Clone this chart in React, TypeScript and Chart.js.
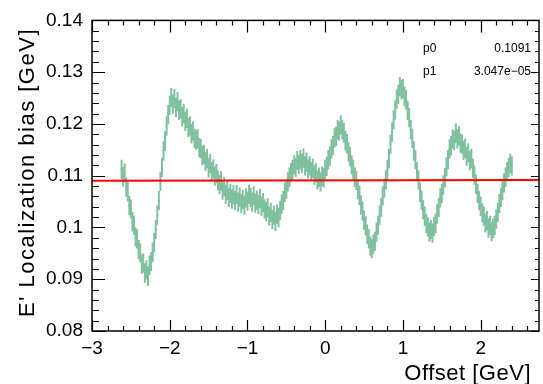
import { useEffect, useRef } from "react";
import { Chart, registerables } from "chart.js";

Chart.register(...registerables);

// Histogram binning (offset axis)
const BIN_START = -2.62;
const BIN_WIDTH = 0.02;

// E' localization bias per offset bin [GeV]
const BIAS = [
  0.1112, 0.1098, 0.1105, 0.1078, 0.1069, 0.1042, 0.1036, 0.1011, 0.1004, 0.0982,
  0.0978, 0.0957, 0.0951, 0.0929, 0.0931, 0.0912, 0.0918, 0.0906, 0.0927, 0.0934,
  0.0952, 0.0971, 0.0996, 0.1024, 0.1052, 0.1089, 0.1116, 0.1148, 0.1167, 0.1196,
  0.1218, 0.1236, 0.1251, 0.1238, 0.1249, 0.1232, 0.1243, 0.1226, 0.1229, 0.1214,
  0.122, 0.1205, 0.1211, 0.1193, 0.1196, 0.1181, 0.1186, 0.1172, 0.1169, 0.1171,
  0.1154, 0.1152, 0.1139, 0.1141, 0.1128, 0.1133, 0.1115, 0.1124, 0.1108, 0.1113,
  0.1099, 0.1104, 0.1091, 0.1083, 0.109, 0.1072, 0.1079, 0.1064, 0.1071, 0.1058,
  0.1066, 0.1055, 0.1063, 0.1052, 0.1064, 0.1049, 0.1058, 0.1046, 0.1054, 0.1043,
  0.1057, 0.1051, 0.1064, 0.1058, 0.1049, 0.1061, 0.1047, 0.1053, 0.1044, 0.1056,
  0.1041, 0.1048, 0.1036, 0.1031, 0.1038, 0.1022, 0.1029, 0.1015, 0.1024, 0.1012,
  0.1026, 0.1019, 0.1033, 0.1045, 0.1052, 0.1068, 0.1074, 0.1088, 0.1097, 0.1106,
  0.1112, 0.1121, 0.1116, 0.1129, 0.1122, 0.1131, 0.1124, 0.1134, 0.1119, 0.1126,
  0.1113, 0.1119, 0.1108, 0.1114, 0.1101, 0.1106, 0.1092, 0.1097, 0.1088, 0.1099,
  0.1096, 0.1112, 0.1118, 0.1131, 0.1138, 0.1152, 0.1158, 0.1173, 0.1176, 0.1189,
  0.1186, 0.1198, 0.1189, 0.1183, 0.1168, 0.1162, 0.1146, 0.1137, 0.1121, 0.1112,
  0.1097, 0.1091, 0.1073, 0.1062, 0.1043, 0.1032, 0.1014, 0.1003, 0.0987, 0.0978,
  0.0964, 0.0959, 0.0968, 0.0973, 0.0991, 0.1004, 0.1024, 0.1039, 0.1061, 0.1076,
  0.1092, 0.1112, 0.1133, 0.1161, 0.1184, 0.1208, 0.1227, 0.1248, 0.1257, 0.1272,
  0.1266, 0.1268, 0.1253, 0.1247, 0.1226, 0.1212, 0.1189, 0.1172, 0.1148, 0.1131,
  0.1108, 0.1092, 0.1068, 0.1053, 0.1034, 0.1022, 0.1008, 0.1001, 0.0991, 0.0996,
  0.0989, 0.1002, 0.1008, 0.1026, 0.1039, 0.1057, 0.1066, 0.1082, 0.1096, 0.1117,
  0.1131, 0.1152, 0.1158, 0.1171, 0.1168, 0.1182, 0.1171, 0.1177, 0.1163, 0.1161,
  0.1149, 0.1153, 0.1138, 0.1144, 0.1129, 0.1133, 0.1114, 0.1101, 0.1083, 0.1066,
  0.1052, 0.1041, 0.1028, 0.1022, 0.1009, 0.1013, 0.0999, 0.1004, 0.0992, 0.0998,
  0.1004, 0.1016, 0.1029, 0.1046, 0.1058, 0.1071, 0.1086, 0.1097, 0.1108, 0.1116,
  0.1124, 0.1119,
];
const BIAS_ERR = 0.0018;

// Linear fit pol1: p0 + p1 * x
const FIT_P0 = 0.1091;
const FIT_P1 = 3.047e-5;
const STAT_NAMES = ["p0", "p1"];
const STAT_VALUES = ["0.1091", "3.047e\u221205"];

const X_MIN = -3;
const X_MAX = 2.75;
const Y_MIN = 0.08;
const Y_MAX = 0.14;

const X_TITLE = "Offset [GeV]";
const Y_TITLE = "E' Localization bias [GeV]";

const FONT = "'Liberation Sans', Arial, Helvetica, sans-serif";
const GREEN = "rgba(122,190,156,0.95)";

const framePlugin = {
  id: "rootFrame",
  afterDatasetsDraw(chart: any) {
    const { ctx, chartArea: a, scales } = chart;
    const xs = scales.x;
    const ys = scales.y;
    ctx.save();
    ctx.strokeStyle = "#000";
    ctx.lineWidth = 1.5;
    ctx.strokeRect(a.left, a.top, a.right - a.left, a.bottom - a.top);
    ctx.lineWidth = 1.2;
    ctx.beginPath();
    // x ticks (0.2 steps), bottom and top
    for (let i = 0; i <= 30; i++) {
      const v = X_MIN + i * 0.2;
      if (v > X_MAX + 1e-9) break;
      const px = Math.round(xs.getPixelForValue(v)) + 0.5;
      const major = i % 5 === 0;
      const lb = major ? 11 : 5;
      const lt = major ? 12 : 5;
      ctx.moveTo(px, a.bottom);
      ctx.lineTo(px, a.bottom - lb);
      ctx.moveTo(px, a.top);
      ctx.lineTo(px, a.top + lt);
    }
    // y ticks (0.002 steps), left and right
    for (let i = 0; i <= 30; i++) {
      const v = Y_MIN + i * 0.002;
      const py = Math.round(ys.getPixelForValue(v)) + 0.5;
      const major = i % 5 === 0;
      const ll = major ? 13 : 7;
      const lr = major ? 8 : 4;
      ctx.moveTo(a.left, py);
      ctx.lineTo(a.left + ll, py);
      ctx.moveTo(a.right, py);
      ctx.lineTo(a.right - lr, py);
    }
    ctx.stroke();
    ctx.restore();
  },
  afterDraw(chart: any) {
    const { ctx } = chart;
    ctx.save();
    ctx.fillStyle = "#000";
    // axis titles
    ctx.font = `22px ${FONT}`;
    try { (ctx as any).letterSpacing = "0.5px"; } catch (e) {}
    ctx.textAlign = "right";
    ctx.textBaseline = "alphabetic";
    ctx.fillText(X_TITLE, 531, 380);
    ctx.save();
    try { (ctx as any).letterSpacing = "1.5px"; } catch (e) {}
    ctx.translate(34, 28);
    ctx.rotate(-Math.PI / 2);
    ctx.textAlign = "right";
    ctx.fillText(Y_TITLE, 0, 0);
    ctx.restore();
    try { (ctx as any).letterSpacing = "0px"; } catch (e) {}
    // fit stats
    ctx.font = `12px ${FONT}`;
    const rows = [52, 75];
    STAT_NAMES.forEach((n, i) => {
      ctx.textAlign = "left";
      ctx.fillText(n, 423, rows[i]);
      ctx.textAlign = "right";
      ctx.fillText(STAT_VALUES[i], 531, rows[i]);
    });
    ctx.restore();
  },
};

const fmtY = (v: number) => String(Number(Number(v).toFixed(3)));
const fmtX = (v: number) => {
  const s = String(Number(Number(v).toFixed(2)));
  return s.replace("-", "\u2212");
};

export default function App() {
  const ref = useRef<HTMLCanvasElement | null>(null);

  useEffect(() => {
    document.body.style.margin = "0";
    const canvas = ref.current;
    if (!canvas) return;

    const xs = BIAS.map((_, i) => BIN_START + i * BIN_WIDTH);
    const errBars = BIAS.map((v, i) => ({ x: xs[i], y: [v - BIAS_ERR, v + BIAS_ERR] }));
    const points = BIAS.map((v, i) => ({ x: xs[i], y: v }));
    const fit = [X_MIN, X_MAX].map((x) => ({ x, y: FIT_P0 + FIT_P1 * x }));

    const chart = new Chart(canvas, {
      type: "bar",
      data: {
        datasets: [
          {
            type: "line",
            data: fit,
            borderColor: "#ff0000",
            borderWidth: 2,
            pointRadius: 0,
            order: 0,
          } as any,
          {
            type: "line",
            data: points,
            showLine: false,
            pointRadius: 1,
            pointBorderWidth: 0,
            pointBackgroundColor: GREEN,
            order: 1,
          } as any,
          {
            type: "bar",
            data: errBars,
            backgroundColor: GREEN,
            barThickness: 1.3,
            grouped: false,
            order: 2,
          } as any,
        ],
      },
      options: {
        responsive: false,
        animation: false,
        devicePixelRatio: 1,
        layout: { padding: { left: 0, right: 2, top: 14, bottom: 0 } },
        plugins: { legend: { display: false }, tooltip: { enabled: false } },
        scales: {
          x: {
            type: "linear",
            min: X_MIN,
            max: X_MAX,
            offset: false,
            grid: { display: false, drawTicks: false, offset: false },
            border: { display: false },
            ticks: {
              stepSize: 1,
              includeBounds: false,
              autoSkip: false,
              maxRotation: 0,
              padding: 6,
              color: "#000",
              font: { family: FONT, size: 19 },
              callback: (v: any) => fmtX(v),
            },
            afterFit: (s: any) => {
              s.height = 53;
            },
          },
          y: {
            type: "linear",
            min: Y_MIN,
            max: Y_MAX,
            beginAtZero: false,
            grid: { display: false, drawTicks: false },
            border: { display: false },
            ticks: {
              stepSize: 0.01,
              autoSkip: false,
              padding: 9,
              color: "#000",
              font: { family: FONT, size: 19 },
              callback: (v: any) => fmtY(v),
            },
            afterFit: (s: any) => {
              s.width = 92;
            },
          },
        },
      } as any,
      plugins: [framePlugin],
    });

    return () => chart.destroy();
  }, []);

  return (
    <div style={{ width: 543, height: 384 }}>
      <canvas ref={ref} width={543} height={384} style={{ width: 543, height: 384, display: "block" }} />
    </div>
  );
}
